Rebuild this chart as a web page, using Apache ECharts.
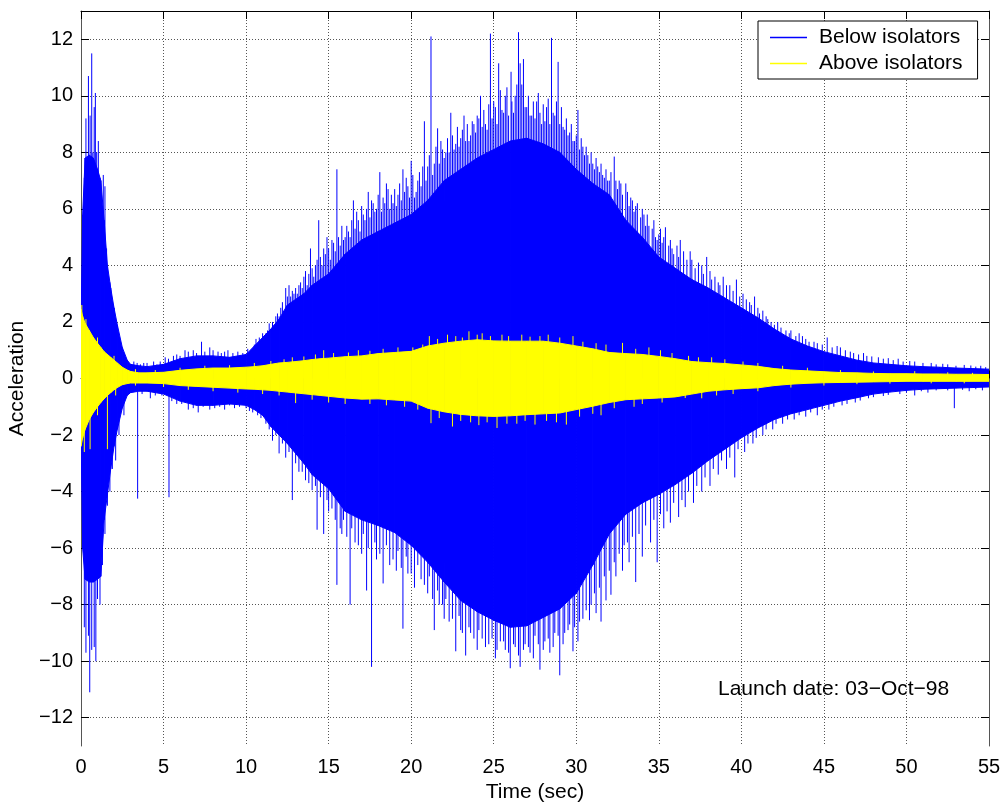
<!DOCTYPE html>
<html>
<head>
<meta charset="utf-8">
<title>Launch acceleration</title>
<script src="https://cdn.jsdelivr.net/npm/echarts@6.0.0/dist/echarts.min.js"></script>
<style>
  html, body { margin: 0; padding: 0; background: #fff; }
  #main { width: 1005px; height: 803px; }
</style>
</head>
<body>
<div id="main"></div>
<script>
// envelope sample times (sec), finer where the signal changes fast
const envT = [0, 0.1, 0.25, 0.5, 0.75, 1, 1.2, 1.4, 1.6, 1.8,
  2, 2.2, 2.5, 2.8, 3, 3.5, 4,
  5, 6, 7, 8, 9, 10,
  10.5, 11, 11.5, 12, 12.5, 13, 13.5, 14, 14.5, 15,
  16, 17, 18, 19, 20, 21, 22, 23, 24, 25, 26, 27, 28, 29, 30, 31, 32, 33, 34, 35,
  36, 37, 38, 39, 40, 41, 42, 43, 44, 45, 46, 47, 48, 49, 50, 51, 52, 53, 54, 55]

// below isolators: solid part of the trace
const blueUpper = [1.8, 5.8, 7.8, 7.9, 7.8, 7.4, 7.0, 5.6, 4.0, 3.2,
  2.5, 1.9, 1.1, 0.65, 0.5, 0.45, 0.42,
  0.5, 0.7, 0.8, 0.8, 0.75, 0.85,
  1.15, 1.45, 1.75, 2.1, 2.6, 2.8, 3.0, 3.3, 3.5, 3.7,
  4.4, 4.9, 5.2, 5.5, 5.8, 6.3, 7.0, 7.4, 7.8, 8.1, 8.4, 8.5, 8.3, 8.0, 7.4, 6.9, 6.5, 5.6, 5.0, 4.3,
  3.9, 3.5, 3.2, 2.85, 2.5, 2.15, 1.75, 1.4, 1.15, 0.95, 0.8, 0.65, 0.55, 0.5, 0.45, 0.42, 0.4, 0.37, 0.35, 0.33]
const blueLower = [-1.8, -6.0, -7.1, -7.2, -7.2, -7.1, -7.0, -5.0, -4.1, -3.2,
  -2.4, -1.8, -1.05, -0.6, -0.5, -0.45, -0.45,
  -0.55, -0.8, -0.95, -0.95, -0.9, -0.95,
  -1.1, -1.3, -1.7, -2.0, -2.3, -2.65, -3.0, -3.4, -3.65, -3.9,
  -4.7, -5.0, -5.2, -5.45, -5.9, -6.5, -7.2, -7.85, -8.25, -8.55, -8.8, -8.75, -8.45, -8.15, -7.6, -6.6, -5.5, -4.8, -4.4, -4.1,
  -3.75, -3.35, -2.9, -2.5, -2.1, -1.75, -1.45, -1.25, -1.1, -0.95, -0.8, -0.68, -0.55, -0.48, -0.42, -0.38, -0.36, -0.34, -0.32, -0.3]

// above isolators
const yellowUpper = [2.45, 2.2, 1.95, 1.7, 1.45, 1.25, 1.1, 0.95, 0.85, 0.75,
  0.65, 0.55, 0.4, 0.3, 0.25, 0.2, 0.2,
  0.22, 0.29, 0.34, 0.37, 0.37, 0.4,
  0.42, 0.45, 0.5, 0.55, 0.57, 0.6, 0.63, 0.67, 0.7, 0.72,
  0.77, 0.8, 0.88, 0.92, 0.96, 1.15, 1.25, 1.32, 1.37, 1.33, 1.32, 1.32, 1.32, 1.25, 1.15, 1.05, 0.92, 0.88, 0.85, 0.78,
  0.7, 0.6, 0.56, 0.53, 0.48, 0.43, 0.35, 0.3, 0.27, 0.24, 0.21, 0.2, 0.18, 0.17, 0.17, 0.16, 0.16, 0.15, 0.15, 0.14]
const yellowLower = [-2.4, -2.1, -1.8, -1.45, -1.2, -1.0, -0.85, -0.72, -0.6, -0.5,
  -0.4, -0.32, -0.22, -0.18, -0.16, -0.16, -0.16,
  -0.18, -0.25, -0.28, -0.31, -0.34, -0.37,
  -0.38, -0.4, -0.42, -0.45, -0.48, -0.51, -0.54, -0.57, -0.6, -0.63,
  -0.69, -0.73, -0.72, -0.76, -0.8, -1.05, -1.18, -1.27, -1.32, -1.34, -1.32, -1.28, -1.25, -1.22, -1.1, -0.98, -0.85, -0.75, -0.72, -0.69,
  -0.65, -0.55, -0.45, -0.4, -0.36, -0.33, -0.25, -0.2, -0.17, -0.15, -0.14, -0.13, -0.12, -0.11, -0.1, -0.1, -0.1, -0.1, -0.1, -0.1]

// tall peaks sticking out of the solid part [time, value]
const blueSpikesUp = [[0.2, 7.1], [0.3, 9.2], [0.45, 10.7], [0.55, 9.3], [0.65, 11.5], [0.72, 8.0], [0.8, 9.6], [0.87, 10.1],
  [0.95, 8.0], [1.05, 8.4], [1.15, 7.1], [1.35, 7.2], [1.45, 6.8], [1.55, 4.6], [1.75, 3.4], [1.95, 2.6], [2.1, 2.0],
  [2.35, 1.3], [2.6, 0.9], [3.2, 0.6], [3.8, 0.55], [4.4, 0.6], [5.1, 0.75], [5.6, 0.8], [6.3, 1.0], [6.8, 1.0],
  [7.3, 1.3], [7.8, 1.1], [8.3, 0.95], [8.9, 1.0], [9.5, 0.95], [10.1, 1.05], [10.6, 1.4], [11.0, 1.6], [11.4, 1.95],
  [11.8, 2.2], [12.1, 2.5], [12.4, 3.2], [12.6, 3.3], [12.9, 3.0], [13.2, 3.3], [13.6, 3.8], [13.9, 4.6], [14.2, 4.0],
  [14.4, 5.6], [14.7, 4.6], [14.9, 5.0], [15.3, 4.8], [15.5, 7.4], [15.8, 5.4], [16.0, 5.0], [16.2, 5.2], [16.5, 6.3],
  [16.8, 5.6], [17.1, 5.8], [17.4, 6.6], [17.7, 6.2], [17.9, 6.0], [18.1, 7.3], [18.3, 6.4], [18.6, 6.7], [18.9, 6.2],
  [19.2, 6.5], [19.5, 7.4], [19.8, 6.8], [20.0, 7.7], [20.2, 6.4], [20.5, 7.3], [20.8, 9.1], [21.0, 7.5], [21.2, 12.1],
  [21.4, 7.6], [21.6, 8.85], [21.9, 8.1], [22.1, 8.0], [22.4, 9.4], [22.7, 8.3], [23.0, 8.5], [23.2, 9.3], [23.5, 8.4],
  [23.8, 9.0], [24.0, 9.3], [24.2, 10.0], [24.5, 9.0], [24.8, 12.2], [25.0, 9.8], [25.3, 11.15], [25.5, 9.5], [25.8, 10.3],
  [26.05, 10.85], [26.3, 10.0], [26.5, 12.25], [26.6, 11.15], [26.8, 11.3], [27.0, 9.6], [27.3, 9.3], [27.6, 9.8],
  [27.9, 9.0], [28.2, 9.6], [28.5, 12.05], [28.7, 9.3], [28.9, 11.2], [29.2, 8.9], [29.5, 8.6], [29.8, 8.4], [30.1, 9.5],
  [30.4, 8.2], [30.7, 7.9], [31.0, 7.6], [31.3, 7.5], [31.6, 7.2], [31.9, 7.0], [32.3, 7.85], [32.6, 7.0], [33.0, 6.9],
  [33.3, 6.4], [33.6, 6.1], [34.0, 6.0], [34.4, 5.4], [34.8, 5.0], [35.1, 5.3], [35.4, 5.35], [35.8, 4.6], [36.3, 4.9],
  [36.9, 4.5], [37.4, 4.1], [37.9, 4.3], [38.4, 3.6], [38.9, 3.6], [39.3, 3.3], [39.7, 3.5], [40.3, 2.8], [40.8, 2.9],
  [41.3, 2.4], [41.8, 2.0], [42.4, 1.8], [43.0, 1.7], [43.7, 1.5], [44.4, 1.3], [45.2, 1.45], [46.0, 1.1], [46.8, 0.9],
  [47.6, 0.8], [48.3, 0.75], [49.5, 0.7], [50.5, 0.6], [51.5, 0.55], [52.5, 0.5], [53.5, 0.48], [54.5, 0.45]]
const blueSpikesDown = [[0.2, -8.8], [0.3, -9.7], [0.45, -9.1], [0.53, -11.1], [0.65, -9.6], [0.8, -9.5], [0.9, -10.0],
  [1.0, -7.8], [1.15, -8.0], [1.3, -6.6], [1.45, -5.5], [1.6, -4.5], [1.75, -4.0], [1.9, -3.2], [2.1, -2.9], [2.3, -2.0],
  [2.6, -1.3], [3.43, -4.25], [4.2, -0.7], [5.33, -4.2], [5.8, -0.9], [6.5, -1.1], [7.1, -1.2], [7.8, -1.1], [8.7, -1.1],
  [9.3, -1.05], [10.2, -1.15], [10.7, -1.3], [11.2, -1.6], [11.6, -2.2], [12.0, -2.65], [12.4, -2.8], [12.8, -4.3],
  [13.2, -3.3], [13.6, -3.6], [14.0, -3.95], [14.3, -5.35], [14.7, -5.5], [15.0, -4.7], [15.5, -7.3], [15.8, -5.5],
  [16.3, -8.0], [16.6, -5.8], [17.0, -6.2], [17.3, -7.5], [17.6, -10.2], [17.9, -6.4], [18.3, -7.25], [18.7, -6.6],
  [19.1, -6.8], [19.5, -8.85], [19.8, -6.9], [20.2, -7.4], [20.6, -7.1], [21.0, -7.6], [21.4, -8.9], [21.7, -8.0],
  [22.0, -8.5], [22.3, -8.6], [22.7, -9.65], [23.0, -8.9], [23.3, -9.8], [23.6, -9.0], [24.0, -9.6], [24.3, -9.2],
  [24.7, -9.4], [25.1, -9.9], [25.4, -9.3], [25.7, -9.6], [26.0, -10.25], [26.3, -9.5], [26.6, -10.2], [26.9, -9.4],
  [27.2, -9.7], [27.5, -9.1], [27.8, -10.3], [28.1, -9.3], [28.4, -9.7], [28.7, -9.0], [29.0, -10.5], [29.3, -9.0],
  [29.6, -8.7], [29.8, -9.65], [30.1, -9.3], [30.4, -8.5], [30.8, -8.55], [31.2, -8.3], [31.5, -8.6], [31.8, -7.85],
  [32.1, -7.65], [32.4, -7.0], [32.8, -6.8], [33.2, -6.5], [33.6, -7.2], [34.0, -6.3], [34.5, -5.8], [34.9, -6.5],
  [35.3, -5.3], [35.7, -5.1], [36.2, -4.9], [36.6, -4.55], [37.1, -4.4], [37.6, -4.0], [38.1, -3.8], [38.6, -3.4],
  [39.1, -3.2], [39.6, -3.5], [40.2, -2.6], [40.7, -2.3], [41.3, -2.0], [41.9, -1.8], [42.5, -1.6], [43.2, -1.45],
  [43.9, -1.35], [44.6, -1.3], [45.3, -1.1], [46.1, -0.95], [46.9, -0.85], [47.7, -0.7], [48.6, -0.62], [49.6, -0.55],
  [50.5, -0.6], [51.3, -0.5], [52.9, -1.05], [53.8, -0.45], [54.6, -0.42]]

// the dense short peaks that make the edge of the solid part ragged
const blueForestUp = [[3.4, 0.55], [3.6, 0.5], [4.0, 0.55], [4.6, 0.5], [4.8, 0.6], [5.3, 0.7], [5.8, 0.85], [6.0, 0.8],
  [6.5, 0.95], [7.0, 0.9], [7.5, 0.95], [8.0, 1.0], [8.5, 0.9], [8.7, 0.95], [9.2, 0.9], [9.8, 0.9], [10.3, 1.0],
  [10.5, 1.2], [10.8, 1.45], [11.2, 1.6], [11.3, 1.7], [11.6, 2.0], [11.7, 1.9], [11.9, 2.3], [12.0, 2.2], [12.2, 2.7],
  [12.3, 2.4], [12.5, 2.9], [12.7, 2.9], [12.8, 3.1], [13.0, 3.2], [13.1, 3.0], [13.3, 3.4], [13.4, 3.2], [13.5, 3.6],
  [13.7, 3.3], [13.8, 3.7], [14.0, 3.9], [14.1, 3.6], [14.3, 4.2], [14.5, 4.3], [14.6, 4.0], [14.8, 4.4], [15.0, 4.6],
  [15.1, 4.2], [15.2, 4.9], [15.4, 4.5], [15.6, 5.0], [15.7, 4.7], [15.9, 4.9], [16.1, 5.4], [16.3, 5.0], [16.4, 5.6],
  [16.6, 5.3], [16.7, 5.9], [16.9, 5.2], [17.0, 6.1], [17.2, 5.6], [17.3, 6.0], [17.5, 5.7], [17.6, 6.3], [17.8, 5.9],
  [18.0, 6.5], [18.2, 5.9], [18.4, 6.2], [18.5, 6.9], [18.7, 6.0], [18.8, 6.5], [19.0, 6.7], [19.1, 6.1], [19.3, 6.9],
  [19.4, 6.3], [19.6, 6.6], [19.7, 7.1], [19.9, 6.4], [20.1, 7.2], [20.3, 6.6], [20.4, 7.0], [20.6, 6.8], [20.7, 7.5],
  [20.9, 7.0], [21.1, 7.9], [21.3, 7.2], [21.5, 8.2], [21.7, 7.6], [21.8, 8.4], [22.0, 7.8], [22.2, 8.5], [22.3, 8.0],
  [22.5, 8.6], [22.6, 8.1], [22.8, 8.9], [22.9, 8.2], [23.1, 8.8], [23.3, 8.4], [23.4, 9.0], [23.6, 8.6], [23.7, 9.1],
  [23.9, 8.7], [24.1, 9.2], [24.3, 8.9], [24.4, 9.5], [24.6, 8.8], [24.7, 9.7], [24.9, 9.2], [25.1, 9.6], [25.2, 9.0],
  [25.4, 10.2], [25.6, 9.4], [25.7, 10.0], [25.9, 9.3], [26.1, 9.8], [26.2, 9.4], [26.4, 10.4], [26.7, 10.4], [26.9, 9.6],
  [27.1, 10.0], [27.2, 9.3], [27.4, 9.8], [27.5, 9.2], [27.7, 10.1], [27.8, 9.4], [28.0, 9.7], [28.1, 9.1], [28.3, 9.9],
  [28.4, 9.0], [28.6, 9.4], [28.8, 9.8], [29.0, 9.0], [29.1, 9.6], [29.3, 8.8], [29.4, 9.2], [29.6, 8.7], [29.7, 9.0],
  [29.9, 8.4], [30.0, 8.6], [30.2, 8.1], [30.3, 8.5], [30.5, 7.9], [30.6, 8.2], [30.8, 7.6], [30.9, 8.0], [31.1, 7.4],
  [31.2, 7.8], [31.4, 7.3], [31.5, 7.6], [31.7, 7.1], [31.8, 7.4], [32.0, 7.0], [32.1, 7.3], [32.4, 7.0], [32.5, 6.7],
  [32.7, 6.9], [32.8, 6.5], [33.1, 6.6], [33.2, 6.1], [33.4, 6.3], [33.5, 5.9], [33.7, 6.2], [33.9, 5.7], [34.1, 5.8],
  [34.2, 5.4], [34.3, 5.8], [34.6, 5.3], [34.7, 5.6], [34.9, 4.9], [35.0, 5.1], [35.2, 4.8], [35.3, 5.0], [35.6, 4.7],
  [35.7, 4.9], [35.9, 4.4], [36.1, 4.7], [36.2, 4.3], [36.5, 4.5], [36.7, 4.2], [37.0, 4.2], [37.2, 3.9], [37.6, 4.0],
  [37.7, 3.7], [38.1, 3.8], [38.2, 3.5], [38.6, 3.4], [38.7, 3.3], [39.1, 3.3], [39.5, 3.1], [39.9, 2.9], [40.1, 3.0],
  [40.5, 2.7], [40.6, 2.6], [41.0, 2.5], [41.1, 2.3], [41.5, 2.2], [41.6, 2.1], [42.0, 1.9], [42.2, 2.0], [42.7, 1.7],
  [42.9, 1.6], [43.3, 1.5], [43.5, 1.6], [43.9, 1.4], [44.1, 1.3], [44.6, 1.25], [44.9, 1.2], [45.5, 1.1], [45.8, 1.15],
  [46.3, 1.0], [46.6, 0.95], [47.1, 0.85], [47.4, 0.9], [47.9, 0.78], [48.6, 0.7], [48.9, 0.72], [49.2, 0.65], [49.8, 0.6],
  [50.2, 0.62], [51.0, 0.55], [51.8, 0.5], [52.2, 0.52], [53.0, 0.45], [53.9, 0.46], [54.2, 0.42], [54.8, 0.4]]
const blueForestDown = [[3.7, -0.55], [4.5, -0.6], [4.9, -0.6], [5.5, -0.8], [6.1, -0.9], [6.8, -1.05], [7.4, -1.0],
  [8.1, -1.05], [8.4, -1.0], [9.0, -0.95], [9.6, -1.0], [10.0, -1.05], [10.4, -1.2], [10.9, -1.4], [11.4, -1.8],
  [11.8, -2.0], [12.2, -2.3], [12.6, -2.6], [13.0, -3.0], [13.4, -3.3], [13.8, -3.7], [14.2, -3.8], [14.5, -4.2],
  [14.9, -4.3], [15.2, -4.6], [15.4, -5.0], [15.7, -5.3], [15.9, -5.0], [16.1, -5.6], [16.4, -5.3], [16.8, -5.9],
  [17.1, -5.5], [17.4, -6.0], [17.8, -5.8], [18.1, -6.2], [18.5, -5.9], [18.9, -6.4], [19.2, -6.1], [19.4, -6.7],
  [19.7, -6.3], [20.0, -6.9], [20.4, -6.6], [20.8, -7.3], [21.1, -7.0], [21.3, -7.8], [21.6, -7.5], [21.9, -8.0],
  [22.1, -7.8], [22.5, -8.5], [22.9, -8.4], [23.1, -9.0], [23.5, -8.8], [23.8, -9.2], [24.1, -8.9], [24.5, -9.5],
  [24.9, -9.2], [25.2, -9.6], [25.6, -9.3], [25.9, -9.7], [26.2, -9.4], [26.5, -9.8], [26.8, -9.6], [27.1, -9.5],
  [27.4, -9.9], [27.7, -9.4], [28.0, -9.6], [28.3, -9.2], [28.6, -9.5], [28.9, -9.1], [29.2, -9.4], [29.5, -8.9],
  [29.9, -8.8], [30.2, -8.6], [30.6, -8.2], [30.9, -8.0], [31.1, -7.6], [31.4, -7.4], [31.7, -7.0], [32.0, -6.8],
  [32.3, -6.5], [32.6, -6.2], [32.9, -5.9], [33.1, -5.8], [33.4, -5.6], [33.8, -5.5], [34.2, -5.2], [34.7, -5.0],
  [35.1, -4.8], [35.5, -4.7], [35.9, -4.4], [36.4, -4.3], [36.8, -4.0], [37.3, -3.8], [37.8, -3.5], [38.3, -3.2],
  [38.8, -2.9], [39.3, -2.8], [39.8, -2.5], [40.4, -2.3], [40.9, -2.1], [41.5, -1.8], [42.1, -1.6], [42.8, -1.45],
  [43.5, -1.3], [44.2, -1.2], [44.9, -1.1], [45.6, -1.0], [46.4, -0.9], [47.2, -0.78], [48.0, -0.66], [48.9, -0.58],
  [50.0, -0.5], [50.9, -0.45], [51.8, -0.42], [52.5, -0.42], [53.4, -0.4], [54.2, -0.38]]

const yellowSpikesUp = [[0.05, 2.6], [0.3, 2.1], [1.0, 1.45], [2.0, 0.8], [3.3, 0.33], [4.5, 0.3], [6.0, 0.38],
  [7.5, 0.45], [9.0, 0.47], [10.5, 0.55], [11.5, 0.62], [12.3, 0.68], [12.8, 0.75], [13.5, 0.78], [14.2, 0.85],
  [14.7, 1.0], [15.3, 0.9], [16.2, 0.92], [16.8, 1.0], [17.5, 0.98], [18.3, 1.05], [19.2, 1.1], [20.1, 1.1], [20.7, 1.2],
  [21.1, 1.5], [21.6, 1.4], [22.2, 1.55], [22.7, 1.5], [23.1, 1.45], [23.5, 1.67], [24.0, 1.55], [24.3, 1.6],
  [24.8, 1.5], [25.5, 1.55], [25.9, 1.5], [26.7, 1.55], [27.2, 1.48], [27.8, 1.5], [28.3, 1.55], [29.0, 1.45],
  [29.8, 1.5], [30.4, 1.3], [31.2, 1.25], [31.8, 1.2], [32.8, 1.26], [33.6, 1.05], [34.4, 1.1], [35.1, 1.0], [35.8, 0.9],
  [36.8, 0.8], [37.4, 0.75], [38.2, 0.75], [39.0, 0.68], [40.1, 0.6], [41.0, 0.55], [42.5, 0.45], [44.0, 0.38],
  [46.0, 0.3], [48.0, 0.25], [50.5, 0.26], [52.5, 0.22], [54.0, 0.2]]
const yellowSpikesDown = [[0.2, -2.6], [0.55, -2.5], [1.0, -1.3], [1.6, -2.5], [2.1, -0.6], [3.3, -0.25], [5.0, -0.3],
  [6.5, -0.4], [8.0, -0.45], [9.5, -0.5], [11.0, -0.55], [12.0, -0.6], [13.0, -0.87], [14.0, -0.75], [15.0, -0.85],
  [16.0, -0.9], [17.5, -0.9], [18.5, -0.95], [19.6, -1.0], [20.4, -1.1], [21.2, -1.58], [21.7, -1.4], [22.5, -1.7],
  [23.0, -1.5], [23.6, -1.55], [24.1, -1.65], [24.6, -1.55], [25.2, -1.75], [25.8, -1.6], [26.4, -1.6], [26.9, -1.5],
  [27.5, -1.63], [28.2, -1.5], [28.8, -1.55], [29.4, -1.63], [30.2, -1.35], [31.0, -1.25], [31.5, -1.3], [32.3, -1.05],
  [33.5, -1.0], [34.0, -0.9], [35.2, -0.85], [36.6, -0.69], [37.6, -0.7], [38.5, -0.6], [39.5, -0.55], [41.0, -0.45],
  [43.0, -0.32], [45.0, -0.25], [47.0, -0.2], [49.0, -0.18], [51.5, -0.17], [53.5, -0.17]]

const yTicks = [-12, -10, -8, -6, -4, -2, 0, 2, 4, 6, 8, 10, 12]

const font = '"Liberation Sans", Arial, Helvetica, sans-serif'
const BLUE = '#0000ff'
const YELLOW = '#ffff00'

function segments(lo, hi) {
  const out = []
  for (let i = 0; i < envT.length - 1; i++) {
    out.push([envT[i], lo[i], hi[i], envT[i + 1], lo[i + 1], hi[i + 1]])
  }
  return out
}

function bandItem(color) {
  return function (params, api) {
    const a = api.coord([api.value(0), api.value(2)])
    const b = api.coord([api.value(3), api.value(5)])
    const c = api.coord([api.value(3), api.value(4)])
    const d = api.coord([api.value(0), api.value(1)])
    return {
      type: 'polygon',
      shape: { points: [a, b, c, d] },
      style: { fill: color, stroke: color, lineWidth: 1 }
    }
  }
}

function spikeItem(color) {
  return function (params, api) {
    const top = api.coord([api.value(0), api.value(1)])
    const base = api.coord([api.value(0), 0])
    return {
      type: 'line',
      shape: { x1: top[0], y1: base[1], x2: top[0], y2: top[1] },
      style: { stroke: color, lineWidth: 1 }
    }
  }
}

function spikeSeries(name, color, data) {
  return {
    name: name,
    type: 'custom',
    silent: true,
    clip: true,
    renderItem: spikeItem(color),
    encode: { x: 0, y: 1 },
    data: data
  }
}

function minus(v) {
  return String(v).replace('-', '\u2212')
}

const myEcharts = echarts.init(document.getElementById('main'))
const option = {
  animation: false,
  backgroundColor: '#fff',
  textStyle: { fontFamily: font },
  grid: { left: 81, right: 16, top: 11, bottom: 57, containLabel: false, outerBoundsMode: 'none' },
  legend: {
    left: 758,
    top: 21,
    orient: 'vertical',
    data: [
      { name: 'Below isolators', icon: 'rect', itemStyle: { color: BLUE, borderWidth: 0 } },
      { name: 'Above isolators', icon: 'rect', itemStyle: { color: YELLOW, borderWidth: 0 } }
    ],
    itemWidth: 37,
    itemHeight: 1.5,
    itemGap: 5,
    padding: [6, 15, 5, 12],
    backgroundColor: '#fff',
    borderColor: '#000',
    borderWidth: 1,
    textStyle: { fontSize: 21, lineHeight: 21, color: '#000', fontFamily: font, padding: [0, 0, 0, 7] }
  },
  graphic: [{
    type: 'text',
    left: 718,
    top: 679,
    style: { text: 'Launch date: 03\u2212Oct\u221298', font: '21px ' + font, fill: '#000' }
  }],
  xAxis: [{
    type: 'value',
    min: 0,
    max: 55,
    interval: 5,
    name: 'Time (sec)',
    nameLocation: 'middle',
    nameGap: 33,
    nameTextStyle: { fontSize: 21, color: '#000', fontFamily: font },
    axisLine: { show: true, lineStyle: { color: '#333' } },
    axisTick: { show: true, inside: true, length: 8, lineStyle: { color: '#000' } },
    axisLabel: { fontSize: 20, color: '#000', margin: 11, fontFamily: font },
    splitLine: { show: true, lineStyle: { color: '#555', type: [1, 2] } }
  }, {
    type: 'value',
    position: 'top',
    min: 0,
    max: 55,
    interval: 5,
    axisLine: { show: true, onZero: false, lineStyle: { color: '#000' } },
    axisTick: { show: true, inside: true, length: 8, lineStyle: { color: '#000' } },
    axisLabel: { show: false },
    splitLine: { show: false }
  }],
  yAxis: [{
    type: 'value',
    min: -13,
    max: 13,
    name: 'Acceleration',
    nameLocation: 'middle',
    nameGap: 47,
    nameTextStyle: { fontSize: 21, color: '#000', fontFamily: font },
    axisLine: { show: true, onZero: false, lineStyle: { color: '#555' } },
    axisTick: { show: true, inside: true, length: 8, customValues: yTicks, lineStyle: { color: '#000' } },
    axisLabel: { customValues: yTicks, fontSize: 20, color: '#000', margin: 8, fontFamily: font, formatter: minus },
    splitLine: { show: true, lineStyle: { color: '#555', type: [1, 2] } }
  }, {
    type: 'value',
    position: 'right',
    min: -13,
    max: 13,
    axisLine: { show: true, onZero: false, lineStyle: { color: '#555' } },
    axisTick: { show: true, inside: true, length: 8, customValues: yTicks, lineStyle: { color: '#000' } },
    axisLabel: { show: false },
    splitLine: { show: false }
  }],
  series: [
    {
      name: 'Below isolators',
      type: 'line',
      symbol: 'none',
      color: BLUE,
      lineStyle: { width: 1, color: BLUE },
      data: []
    },
    {
      name: 'Above isolators',
      type: 'line',
      symbol: 'none',
      color: YELLOW,
      lineStyle: { width: 1, color: YELLOW },
      data: []
    },
    {
      name: 'below body',
      type: 'custom',
      silent: true,
      clip: true,
      renderItem: bandItem(BLUE),
      encode: { x: [0, 3], y: [1, 2, 4, 5] },
      data: segments(blueLower, blueUpper)
    },
    spikeSeries('below forest', BLUE, blueForestUp.concat(blueForestDown)),
    spikeSeries('below peaks', BLUE, blueSpikesUp.concat(blueSpikesDown)),
    {
      name: 'above body',
      type: 'custom',
      silent: true,
      clip: true,
      renderItem: bandItem(YELLOW),
      encode: { x: [0, 3], y: [1, 2, 4, 5] },
      data: segments(yellowLower, yellowUpper)
    },
    spikeSeries('above peaks', YELLOW, yellowSpikesUp.concat(yellowSpikesDown))
  ]
}
myEcharts.setOption(option)
</script>
</body>
</html>
